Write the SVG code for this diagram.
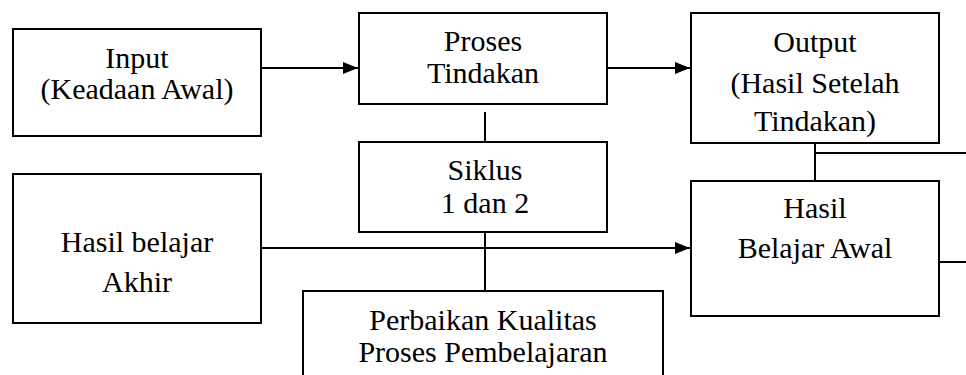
<svg xmlns="http://www.w3.org/2000/svg" width="966" height="375" viewBox="0 0 966 375">
<defs>
<style>
.box{fill:#fff;stroke:#000;stroke-width:2}
.ln{fill:none;stroke:#000;stroke-width:2}
.t{font-family:'Liberation Serif','Times New Roman',serif;font-size:30px;fill:#000;text-anchor:middle}
</style>
<marker id="ah" markerWidth="16" markerHeight="12" refX="15" refY="6" orient="auto" markerUnits="userSpaceOnUse">
<path d="M0,0 L15,6 L0,12 Z" fill="#000"/>
</marker>
</defs>
<rect width="966" height="375" fill="#fff"/>
<g id="connectors">
<line class="ln" x1="261" y1="68" x2="358" y2="68" marker-end="url(#ah)"/>
<line class="ln" x1="607" y1="68" x2="690" y2="68" marker-end="url(#ah)"/>
<line class="ln" x1="485" y1="112" x2="485" y2="142"/>
<line class="ln" x1="485" y1="223" x2="485" y2="301"/>
<line class="ln" x1="261" y1="248" x2="690" y2="248" marker-end="url(#ah)"/>
<line class="ln" x1="815" y1="142" x2="815" y2="192"/>
<line class="ln" x1="815" y1="153" x2="966" y2="153"/>
<line class="ln" x1="939" y1="262" x2="966" y2="262"/>
</g>
<g id="input">
<rect class="box" x="13" y="29" width="248" height="107"/>
<text class="t" x="137" y="68">Input</text>
<text class="t" x="137" y="99">(Keadaan Awal)</text>
</g>
<g id="proses">
<rect class="box" x="359" y="13" width="248" height="91"/>
<text class="t" x="483" y="51">Proses</text>
<text class="t" x="483" y="83">Tindakan</text>
</g>
<g id="output">
<rect class="box" x="691" y="13" width="248" height="130"/>
<text class="t" x="815" y="52">Output</text>
<text class="t" x="815" y="93">(Hasil Setelah</text>
<text class="t" x="815" y="131">Tindakan)</text>
</g>
<g id="siklus">
<rect class="box" x="359" y="142" width="248" height="90" fill="none"/>
<text class="t" x="485" y="180">Siklus</text>
<text class="t" x="485" y="213">1 dan 2</text>
</g>
<g id="hasil-akhir">
<rect class="box" x="13" y="174" width="248" height="149"/>
<text class="t" x="137" y="252">Hasil belajar</text>
<text class="t" x="137" y="292">Akhir</text>
</g>
<g id="hasil-awal">
<rect class="box" x="691" y="181" width="248" height="135" fill="none"/>
<text class="t" x="815" y="218">Hasil</text>
<text class="t" x="815" y="258">Belajar Awal</text>
</g>
<g id="perbaikan">
<rect class="box" x="303" y="291" width="360" height="100" fill="none"/>
<text class="t" x="483" y="330">Perbaikan Kualitas</text>
<text class="t" x="483" y="362">Proses Pembelajaran</text>
</g>
</svg>
